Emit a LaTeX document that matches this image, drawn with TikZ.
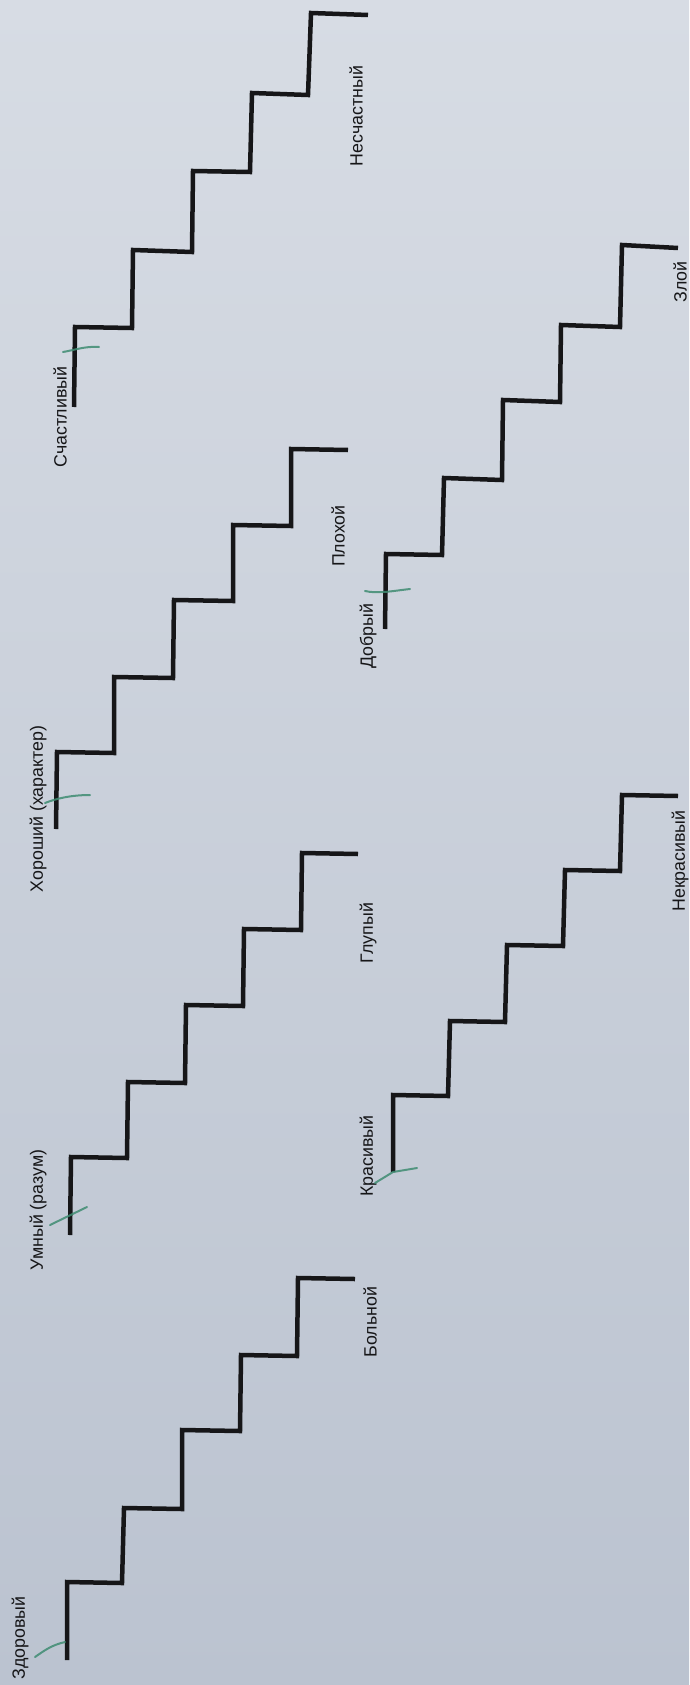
\documentclass[tikz,border=0pt]{standalone}
\usepackage{fontspec}
\setmainfont{Liberation Sans}
\definecolor{bgtop}{HTML}{D7DCE4}
\definecolor{bgbot}{HTML}{BBC3D0}
\definecolor{ink}{HTML}{161618}
\definecolor{pen}{HTML}{3F8C72}
\begin{document}
\begin{tikzpicture}[x=1pt,y=-1pt,
  stair/.style={line width=4.5pt, draw=ink, line join=miter},
  greenmark/.style={line width=2pt, draw=pen, line cap=round, opacity=0.85},
  lbl/.style={rotate=90, text=ink, font=\fontsize{17.8}{20}\selectfont, inner sep=0pt}]
\useasboundingbox (0pt,0pt) rectangle (689pt,-1685pt);
\shade[top color=bgtop, bottom color=bgbot] (0pt,0pt) rectangle (689pt,-1685pt);

% Staircase 1: Здоровый -> Больной
\draw[stair] (67,1660) -- (67,1582) -- (122,1583) -- (124,1508) -- (182,1509) -- (182,1430) -- (240,1431) -- (241,1355) -- (297,1356) -- (298,1278) -- (355,1279);
% Staircase 2: Умный -> Глупый
\draw[stair] (70,1235) -- (71,1157) -- (127,1158) -- (128,1082) -- (185,1083) -- (186,1005) -- (243,1006) -- (244,929) -- (301,930) -- (302,853) -- (358,854);
% Staircase 3: Хороший -> Плохой
\draw[stair] (56,829) -- (57,752) -- (114,753) -- (114,677) -- (173,678) -- (174,600) -- (233,601) -- (233,525) -- (291,526) -- (291,449) -- (348,450);
% Staircase 4: Счастливый -> Несчастный
\draw[stair] (74,407) -- (75,327) -- (132,328) -- (133,250) -- (192,252) -- (193,171) -- (250,172) -- (252,93) -- (308,95) -- (311,13) -- (368,15);
% Staircase 5: Красивый -> Некрасивый
\draw[stair] (393,1172) -- (393,1095) -- (448,1096) -- (450,1021) -- (505,1022) -- (507,945) -- (563,946) -- (565,870) -- (620,871) -- (622,795) -- (678,796);
% Staircase 6: Добрый -> Злой
\draw[stair] (385,629) -- (386,554) -- (442,555) -- (444,478) -- (502,480) -- (503,400) -- (560,402) -- (561,325) -- (620,327) -- (622,245) -- (678,248);

% Labels
\node[lbl] (zdorov) at (20,1638) {Здоровый};
\node[lbl] (bolnoy) at (370,1322) {Больной};
\node[lbl] (umny) at (38,1210) {Умный (разум)};
\node[lbl] (glupy) at (368,933) {Глупый};
\node[lbl] (horoshy) at (38,809) {Хороший (характер)};
\node[lbl] (plohoy) at (338,536) {Плохой};
\node[lbl] (schast) at (60,417) {Счастливый};
\node[lbl] (neschast) at (356,116) {Несчастный};
\node[lbl] (krasivy) at (368,1156) {Красивый};
\node[lbl] (nekrasivy) at (680,861) {Некрасивый};
\node[lbl] (dobry) at (368,636) {Добрый};
\node[lbl] (zloy) at (680,282) {Злой};

% Green pen ticks
\draw[greenmark] (35,1657) .. controls (45,1650) and (52,1645) .. (65,1642);
\draw[greenmark] (50,1225) -- (87,1207);
\draw[greenmark] (45,803) .. controls (55,799) and (70,795) .. (90,795);
\draw[greenmark] (63,352) .. controls (75,350) and (85,346) .. (99,347);
\draw[greenmark] (375,1183) -- (393,1172) -- (417,1168);
\draw[greenmark] (365,591) .. controls (378,594) and (392,591) .. (410,589);
\end{tikzpicture}
\end{document}
